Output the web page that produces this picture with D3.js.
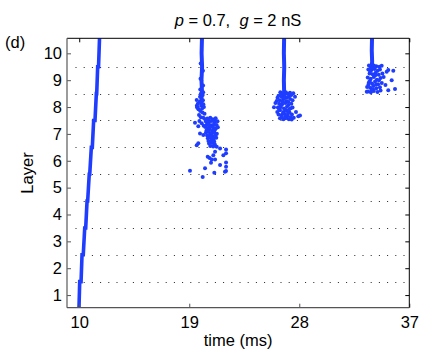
<!DOCTYPE html>
<html>
<head>
<meta charset="utf-8">
<script src="https://cdn.jsdelivr.net/npm/d3@7"></script>
<style>
  body { margin: 0; background: #fff; }
  text { font-family: "Liberation Sans", Arial, sans-serif; }
</style>
</head>
<body>
<div id="chart"></div>
<script>
// ---- data (time in ms, layer index) ----
var layerTicks = [1, 2, 3, 4, 5, 6, 7, 8, 9, 10];
var timeTicks = [10, 19, 28, 37];
var layerBounds = [1.5, 2.5, 3.5, 4.5, 5.5, 6.5, 7.5, 8.5, 9.5];

// first volley, one thick staircase through the layers
var firstWave = [
  [9.98, 0.53], [10.04, 1.5], [10.15, 1.5], [10.23, 2.5], [10.33, 2.5],
  [10.45, 3.5], [10.53, 3.5], [10.64, 4.5], [10.69, 4.5], [10.82, 5.5],
  [10.86, 5.5], [10.99, 6.5], [11.07, 6.5], [11.18, 7.5], [11.29, 7.5],
  [11.40, 8.5], [11.43, 8.5], [11.51, 9.5], [11.58, 9.5], [11.66, 10.56]
];

// dense vertical columns of the later volleys
var column1 = [[20.04, 10.56], [20.01, 10.0], [20.05, 9.5], [20.0, 9.0], [20.04, 8.6], [20.0, 8.3], [19.98, 8.0]];
var column2 = [[26.76, 10.56], [26.74, 10.0], [26.77, 9.5], [26.74, 9.0], [26.76, 8.6], [26.73, 8.3]];
var column3 = [[33.95, 10.56], [33.93, 10.1], [33.96, 9.7], [33.92, 9.4]];

var spikes1 = [
  [19.93, 9.62], [20.12, 9.35], [19.92, 9.05], [20.13, 8.8], [19.9, 8.65], [20.14, 8.55],
  [19.62, 8.05], [19.7, 8.12], [19.85, 8.2], [20.12, 8.25], [20.2, 8.0], [19.75, 7.92],
  [19.9, 7.85], [20.08, 7.8], [20.25, 7.75], [19.8, 7.7], [19.95, 7.62], [20.15, 7.6],
  [20.3, 7.55], [19.66, 7.98], [20.05, 7.95], [19.88, 8.38], [20.1, 8.45], [19.95, 8.5],
  [20.15, 8.1], [19.61, 8.26], [19.66, 7.99], [19.83, 7.48], [20.02, 7.4], [20.18, 7.3],
  [20.47, 7.57], [20.72, 7.6], [20.93, 7.55], [21.16, 7.58], [20.58, 7.52], [21.03, 7.51],
  [20.36, 7.46], [20.61, 7.43], [20.84, 7.48], [21.08, 7.44], [21.31, 7.47],
  [20.42, 7.34], [20.56, 7.37], [20.79, 7.32], [21.02, 7.36], [21.24, 7.33], [20.68, 7.29],
  [20.31, 7.26], [20.52, 7.22], [20.76, 7.27], [20.96, 7.24], [21.19, 7.21], [21.34, 7.25],
  [20.41, 7.13], [20.66, 7.17], [20.89, 7.12], [21.11, 7.16], [20.53, 7.09], [20.99, 7.1],
  [20.36, 7.04], [20.62, 7.07], [20.81, 7.02], [21.06, 7.05], [21.26, 7.01],
  [20.46, 6.94], [20.71, 6.97], [20.91, 6.92], [21.14, 6.95], [20.6, 6.9],
  [20.52, 6.84], [20.74, 6.87], [21.01, 6.83], [21.21, 6.86],
  [20.57, 6.74], [20.82, 6.77], [21.04, 6.72], [20.69, 6.7],
  [20.62, 6.64], [20.86, 6.66], [21.09, 6.62],
  [20.72, 6.55], [20.96, 6.53],
  [19.47, 7.42], [19.74, 7.29], [19.88, 7.02], [20.15, 6.96], [19.74, 6.65], [19.61, 6.58],
  [21.25, 6.52], [21.11, 6.34], [20.97, 6.21], [21.52, 6.46], [22.01, 6.42], [22.01, 6.28],
  [21.79, 6.21], [20.51, 6.15], [20.84, 6.05], [20.78, 5.93], [21.11, 6.05], [21.52, 5.84],
  [22.01, 5.94], [22.01, 5.78], [22.01, 5.62], [19.06, 5.63], [20.29, 5.72], [20.1, 5.40],
  [21.05, 5.55], [21.92, 5.59], [20.66, 6.1]
];

var spikes2 = [
  [26.45, 8.55], [26.62, 8.5], [26.9, 8.55], [27.05, 8.5], [27.24, 8.53], [27.51, 8.51],
  [26.3, 8.42], [26.55, 8.38], [26.8, 8.42], [27.0, 8.35], [27.15, 8.4], [27.65, 8.38],
  [26.15, 8.23], [26.4, 8.25], [26.68, 8.28], [26.95, 8.22], [27.25, 8.3], [27.45, 8.25],
  [26.05, 8.15], [26.35, 8.12], [26.6, 8.1], [26.85, 8.15], [27.1, 8.08], [27.35, 8.12],
  [25.93, 7.99], [26.25, 7.98], [26.5, 8.0], [26.75, 7.95], [27.0, 8.02], [27.3, 7.96],
  [26.2, 7.82], [26.42, 7.88], [26.7, 7.82], [26.95, 7.86], [27.2, 7.8], [27.73, 7.82],
  [26.3, 7.72], [26.55, 7.7], [26.8, 7.74], [27.05, 7.68], [27.4, 7.72], [27.92, 7.66],
  [26.42, 7.58], [26.7, 7.55], [26.95, 7.6], [27.15, 7.55], [27.38, 7.54], [28.06, 7.69],
  [26.52, 8.46], [26.78, 8.33], [27.12, 8.19], [26.47, 8.06], [26.88, 7.9], [27.18, 7.92],
  [26.58, 7.63], [26.88, 7.66], [27.28, 7.62], [26.36, 7.92], [27.45, 7.98], [26.62, 8.2],
  [27.35, 8.45], [26.84, 7.58], [26.22, 8.35], [27.55, 7.6], [26.67, 7.78], [27.08, 7.77]
];

var spikes3 = [
  [33.7, 9.55], [33.85, 9.5], [34.1, 9.55], [34.3, 9.52], [34.55, 9.5], [34.74, 9.54],
  [33.65, 9.4], [33.9, 9.38], [34.15, 9.42], [34.4, 9.35], [34.6, 9.4], [35.15, 9.31],
  [35.28, 9.38], [35.69, 9.35],
  [33.75, 9.25], [34.0, 9.22], [34.25, 9.28], [34.5, 9.2], [34.8, 9.25],
  [33.6, 9.1], [33.85, 9.05], [34.1, 9.12], [34.35, 9.02], [34.65, 9.08], [35.56, 9.0],
  [33.7, 8.92], [33.95, 8.88], [34.2, 8.95], [34.45, 8.85], [34.75, 8.9], [35.05, 8.82],
  [33.55, 8.75], [33.8, 8.72], [34.05, 8.78], [34.3, 8.7], [34.6, 8.74], [35.28, 8.63],
  [33.52, 8.57], [33.62, 8.58], [33.85, 8.55], [34.1, 8.6], [34.4, 8.56], [34.65, 8.62],
  [35.83, 8.67], [33.98, 9.46], [34.22, 9.18], [33.78, 8.98], [34.02, 8.66], [34.52, 9.0],
  [33.92, 8.62], [34.28, 8.84], [33.66, 8.84], [34.9, 9.12], [34.2, 9.48], [33.8, 9.32]
];

var svgWidth = 425;
var svgHeight = 358;

var svg = d3
  .select("#chart")
  .append("svg")
  .attr("width", svgWidth)
  .attr("height", svgHeight);

var plotLeft = 67, plotRight = 409.3, plotTop = 38.3, plotBottom = 307.7;
var blue = "#1f3dff";
var fontPx = "16.5px";

var xScale = d3.scaleLinear().domain([9, 37]).range([plotLeft, plotRight]);
var yScale = d3.scaleLinear().domain([0.53, 10.56]).range([plotBottom, plotTop]);

// dotted layer separators
svg
  .append("g")
  .selectAll("line")
  .data(layerBounds)
  .enter()
  .append("line")
  .attr("x1", plotLeft + 8.5)
  .attr("x2", plotRight)
  .attr("y1", (d) => Math.round(yScale(d)) + 0.5)
  .attr("y2", (d) => Math.round(yScale(d)) + 0.5)
  .attr("stroke", "#222")
  .attr("stroke-width", 1)
  .attr("stroke-dasharray", "1,7.2");

var line = d3
  .line()
  .x((d) => xScale(d[0]))
  .y((d) => yScale(d[1]));

var plot = svg.append("g");

plot
  .append("path")
  .datum(firstWave)
  .attr("d", line)
  .attr("fill", "none")
  .attr("stroke", blue)
  .attr("stroke-width", 3.6);

[column1, column2, column3].forEach((c) => {
  plot
    .append("path")
    .datum(c)
    .attr("d", line)
    .attr("fill", "none")
    .attr("stroke", blue)
    .attr("stroke-width", 4);
});

plot
  .selectAll("circle")
  .data(spikes1.concat(spikes2, spikes3))
  .enter()
  .append("circle")
  .attr("cx", (d) => xScale(d[0]))
  .attr("cy", (d) => yScale(d[1]))
  .attr("r", 2)
  .attr("fill", blue);

// cover anything above the frame
svg.append("rect").attr("x", 0).attr("y", 0).attr("width", svgWidth).attr("height", plotTop).attr("fill", "#fff");

// axes
var leftAxis = d3.axisLeft(yScale).tickValues(layerTicks).tickSize(-4).tickPadding(5);
var bottomAxis = d3.axisBottom(xScale).tickValues(timeTicks).tickSize(-4).tickPadding(9);
var rightAxis = d3.axisRight(yScale).tickValues(layerTicks).tickSize(-4).tickFormat("");
var topAxis = d3.axisTop(xScale).tickValues(timeTicks).tickSize(-4).tickFormat("");

function styleAxis(g, color) {
  g.select(".domain").remove();
  g.selectAll(".tick line").attr("stroke", color);
  g.selectAll(".tick text")
    .attr("fill", "#000")
    .style("font-size", fontPx)
    .style("font-family", "'Liberation Sans', Arial, sans-serif");
}

svg.append("g").attr("transform", `translate(${plotLeft},0)`).call(leftAxis).call((g) => styleAxis(g, "#555"));
svg.append("g").attr("transform", `translate(0,${plotBottom})`).call(bottomAxis).call((g) => styleAxis(g, "#555"));
svg.append("g").attr("transform", `translate(${plotRight},0)`).call(rightAxis).call((g) => styleAxis(g, "#000"));
svg.append("g").attr("transform", `translate(0,${plotTop})`).call(topAxis).call((g) => styleAxis(g, "#000"));

// frame
svg.append("line").attr("x1", plotLeft).attr("x2", plotRight).attr("y1", plotTop).attr("y2", plotTop).attr("stroke", "#000");
svg.append("line").attr("x1", plotRight).attr("x2", plotRight).attr("y1", plotTop).attr("y2", plotBottom).attr("stroke", "#000");
svg.append("line").attr("x1", plotLeft).attr("x2", plotLeft).attr("y1", plotTop).attr("y2", plotBottom).attr("stroke", "#666").attr("stroke-width", 1.3);
svg.append("line").attr("x1", plotLeft).attr("x2", plotRight).attr("y1", plotBottom).attr("y2", plotBottom).attr("stroke", "#555").attr("stroke-width", 1.3);

// labels
svg
  .append("text")
  .attr("x", (plotLeft + plotRight) / 2)
  .attr("y", 346)
  .attr("text-anchor", "middle")
  .style("font-size", fontPx)
  .text("time (ms)");

svg
  .append("text")
  .attr("transform", `translate(33, ${(plotTop + plotBottom) / 2}) rotate(-90)`)
  .attr("text-anchor", "middle")
  .style("font-size", fontPx)
  .text("Layer");

svg
  .append("text")
  .attr("x", 5)
  .attr("y", 48)
  .style("font-size", fontPx)
  .text("(d)");

var title = svg
  .append("text")
  .attr("x", 238)
  .attr("y", 26)
  .attr("text-anchor", "middle")
  .style("font-size", fontPx)
  .style("white-space", "pre");
title.append("tspan").style("font-style", "italic").text("p");
title.append("tspan").text(" = 0.7,  ");
title.append("tspan").style("font-style", "italic").text("g");
title.append("tspan").text(" = 2 nS");
</script>
</body>
</html>
